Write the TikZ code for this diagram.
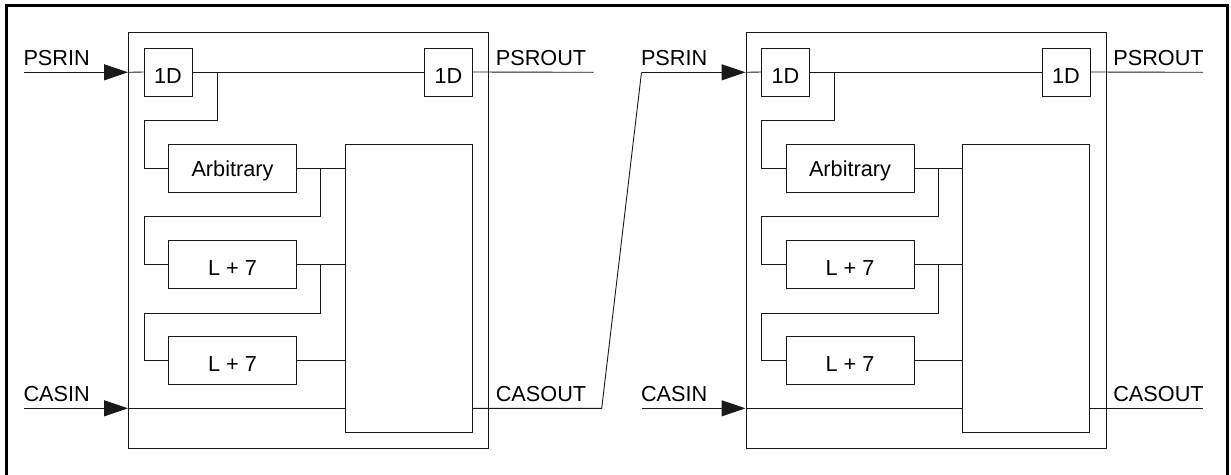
\documentclass[tikz,border=0pt]{standalone}
\usepackage{fontspec}
\setmainfont{Liberation Sans}
\usetikzlibrary{arrows.meta}
\begin{document}
\begin{tikzpicture}[x=1pt,y=-1pt,
  every node/.style={font=\fontsize{21.7}{26}\selectfont},
  ln/.style={draw=black!90,line width=0.9pt},
  modbox/.style={ln,rectangle,inner sep=0pt},
  dbox/.style={ln,rectangle,inner sep=0pt,minimum width=48pt,minimum height=48pt,text height=22pt,text depth=0pt},
  wbox/.style={ln,rectangle,inner sep=0pt,minimum width=128pt,minimum height=48pt,text height=22pt,text depth=0pt},
  bigbox/.style={ln,rectangle,inner sep=0pt,minimum width=127pt,minimum height=288pt},
  lbl/.style={anchor=base west,inner sep=0pt},
  arr/.style={ln,-{Triangle[length=24pt,width=16pt]}}]
\useasboundingbox (0,0) rectangle (1231,474);
\draw[line width=2.6pt,line join=miter] (6.5,476) -- (6.5,5.3) -- (1227.2,5.3) -- (1227.2,476);
\foreach \m/\dx in {1/0,2/617.5}{
\begin{scope}[xshift=\dx pt]
  \node[modbox,minimum width=360pt,minimum height=416pt] (mod\m) at (308.5,240.7) {};
  \node[bigbox] (big\m) at (408.6,288.3) {};
  \node[dbox] (da\m) at (168,72) {1D};
  \node[dbox] (db\m) at (448.5,72) {1D};
  \node[wbox,text height=17pt] (arb\m) at (232.5,168.3) {Arbitrary};
  \node[wbox] (la\m) at (232.5,264.2) {L + 7};
  \node[wbox] (lb\m) at (232.5,360.5) {L + 7};
  \coordinate (pin\m) at (24,72.3);
  \coordinate (cin\m) at (24,408.3);
  \coordinate (ba\m) at (217.3,72.3);
  \coordinate (ra\m) at (144.3,120);
  \coordinate (bb\m) at (320.5,168.3);
  \coordinate (rb\m) at (144.3,216.5);
  \coordinate (bc\m) at (320.5,264.2);
  \coordinate (rc\m) at (144.3,313);
  \node[lbl] (tpsrin\m) at (23.3,65) {PSRIN};
  \node[lbl] (tcasin\m) at (23.3,401.5) {CASIN};
  \node[lbl] (tpsrout\m) at (495.6,65) {PSROUT};
  \node[lbl] (tcasout\m) at (495.6,401.5) {CASOUT};
  \draw[arr] (pin\m) -- (pin\m -| mod\m.west);
  \draw[ln] (pin\m -| mod\m.west) -- (da\m.west);
  \draw[arr] (cin\m) -- (cin\m -| mod\m.west);
  \draw[ln] (cin\m -| mod\m.west) -- (cin\m -| big\m.west);
  \draw[ln] (da\m.east) -- (db\m.west);
  \draw[ln] (ba\m) |- (ra\m) |- (arb\m.west);
  \draw[ln] (arb\m.east) -- (arb\m.east -| big\m.west);
  \draw[ln] (bb\m) |- (rb\m) |- (la\m.west);
  \draw[ln] (la\m.east) -- (la\m.east -| big\m.west);
  \draw[ln] (bc\m) |- (rc\m) |- (lb\m.west);
  \draw[ln] (lb\m.east) -- (lb\m.east -| big\m.west);
\end{scope}}
\coordinate (pout1) at (593.3,72.3);
\coordinate (pout2) at (1202.7,72.3);
\coordinate (cout1) at (601.7,408.3);
\coordinate (cout2) at (1202.7,408.3);
\draw[ln] (db1.east) -- (pout1);
\draw[ln] (db2.east) -- (pout2);
\draw[ln] (cout1 -| big1.east) -- (cout1) -- (pin2);
\draw[ln] (cout2 -| big2.east) -- (cout2);
\end{tikzpicture}
\end{document}
